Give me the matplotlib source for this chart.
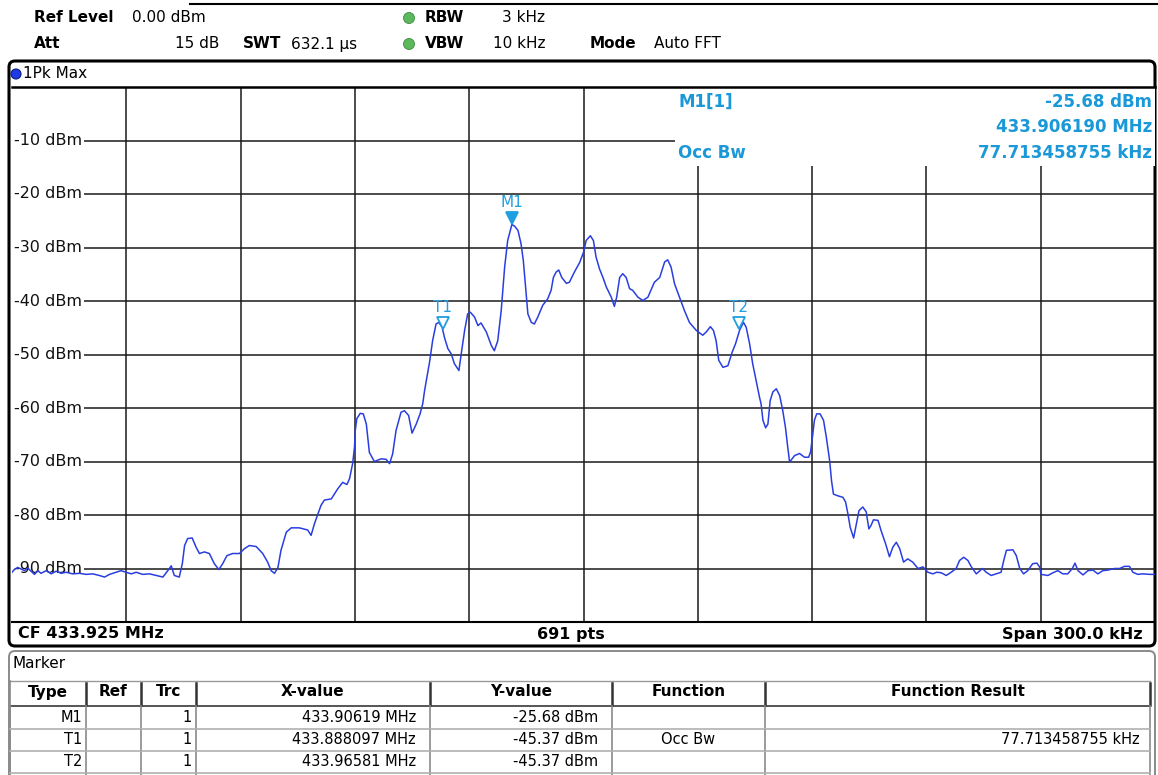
import matplotlib
matplotlib.use("Agg")
import matplotlib.pyplot as plt
import matplotlib.transforms as mtransforms
from matplotlib.patches import FancyBboxPatch, Rectangle, Circle

W, H = 1158, 775

# ---------------- data ----------------
center_mhz = 433.925
span_khz = 300.0
n_points = 691

freq_khz = [
    -150.0, -149.4, -148.5, -147.6, -146.7, -145.9, -145.0, -144.1, -143.2, -142.4,
    -141.0, -139.7, -138.4, -137.1, -135.8, -134.1, -132.3, -130.5, -128.8, -127.1,
    -125.7, -124.4, -122.7, -121.4, -120.0, -118.7, -117.4, -115.7, -113.9, -112.2,
    -110.4, -109.1, -108.2, -107.4, -106.1, -105.3, -104.7, -103.9, -102.7, -101.7,
    -100.8, -99.5, -98.2, -96.9, -95.7, -94.7, -93.6, -92.1, -90.3, -89.0,
    -87.7, -85.9, -84.2, -82.9, -82.0, -81.1, -80.2, -79.4, -78.0, -76.7,
    -74.6, -72.4, -71.5, -70.6,
    -68.9, -68.0, -66.2, -64.5, -63.2, -62.1, -61.4, -60.6, -60.1, -59.9,
    -59.5, -58.6, -57.8, -57.0, -56.2, -54.9, -53.1, -51.8, -50.9, -50.1,
    -49.2, -47.9, -47.0, -45.9, -45.0, -43.9, -42.9, -42.2, -41.7,
    -40.4, -39.6, -38.7, -38.0, -37.1, -36.5, -35.6, -34.7, -33.9, -32.7,
    -32.1, -31.2, -30.4, -29.7, -28.6, -27.7, -26.9, -25.5, -24.2, -23.4,
    -22.5, -21.6, -20.7, -19.9, -18.8, -18.1, -17.2, -16.4, -15.8, -15.2,
    -14.6, -13.7, -12.9, -12.0, -10.7, -9.4, -8.5, -7.9, -7.2, -6.5,
    -5.7, -4.5, -3.7, -2.4, -1.0,
    0.0, 0.7, 1.8, 2.6, 3.3, 4.2, 5.1, 6.0, 7.3, 8.1,
    8.7, 9.5, 10.3, 11.2, 12.1, 12.9, 14.3, 15.6, 16.9, 18.6,
    20.0, 21.3, 22.1, 23.0, 23.9, 25.2, 26.5, 27.8, 29.6, 31.3,
    32.2, 33.3, 34.1, 34.8, 35.5, 36.6, 37.9, 39.0, 39.9, 41.0,
    42.0, 42.7, 43.6, 44.4,
    45.3, 46.2, 46.6, 47.1, 47.8, 48.4, 49.0, 49.7, 50.6, 51.5,
    52.3, 53.0, 53.6, 54.1, 55.4, 56.7, 58.0, 59.1, 59.6, 60.2,
    60.6, 61.2, 62.1, 63.0, 63.7, 64.6, 65.1, 65.6, 66.7, 68.1,
    68.8, 69.4, 70.0, 70.9, 71.6, 72.3, 73.3, 74.2, 74.9, 75.5,
    76.1, 77.3, 78.1, 79.3, 80.3, 81.2, 82.1, 83.0, 84.0, 85.1,
    86.4, 87.8, 89.1, 90.4, 91.7, 92.7, 93.9, 95.2, 96.5, 97.8,
    98.7, 99.8, 100.9, 101.8, 103.1, 104.7, 105.7, 107.0, 108.3, 109.6,
    110.3, 111.0, 112.7, 113.6, 114.5, 115.5, 116.6, 117.9, 119.0, 119.7,
    120.1, 121.9, 123.2, 124.5, 125.8, 127.1, 128.3, 129.0, 129.8, 131.1,
    132.4, 133.7, 135.0, 136.3, 137.6, 139.4, 140.7, 142.0, 143.3, 144.2,
    145.5, 146.8, 148.6, 150.0,
]

level_dbm = [
    -90.7, -90.2, -89.8, -90.1, -90.4, -89.9, -90.5, -91.1, -90.4, -90.9,
    -90.4, -91.0, -90.5, -90.9, -90.7, -91.0, -90.9, -91.1, -91.0, -91.3,
    -91.6, -91.1, -90.7, -90.4, -90.7, -91.0, -90.7, -91.1, -91.0, -91.3,
    -91.6, -90.4, -89.5, -91.3, -91.6, -89.1, -85.7, -84.4, -84.3, -86.0,
    -87.2, -86.9, -87.2, -89.1, -90.2, -89.1, -87.6, -87.2, -87.2, -86.3,
    -85.7, -85.9, -87.2, -88.8, -90.4, -90.9, -89.8, -86.6, -83.2, -82.4,
    -82.4, -82.8, -83.8, -81.6,
    -78.2, -77.2, -77.0, -75.1, -73.9, -74.3, -73.2, -70.4, -67.3, -64.2,
    -62.0, -61.0, -61.1, -63.0, -68.3, -70.0, -69.5, -69.6, -70.4, -68.6,
    -64.2, -60.8, -60.5, -61.4, -64.7, -63.0, -61.1, -59.2, -56.7,
    -51.4, -47.4, -44.3, -44.0, -44.9, -46.8, -48.9, -49.9, -51.7, -53.0,
    -49.9, -45.5, -42.4, -42.1, -43.0, -44.6, -44.1, -45.8, -48.3, -49.3,
    -47.4, -41.8, -33.7, -28.7, -25.7, -26.0, -26.8, -29.3, -32.4, -37.4,
    -42.4, -44.0, -44.3, -43.0, -40.8, -39.6, -38.0, -35.6, -34.6, -34.2,
    -35.6, -36.7, -36.5, -34.6, -32.8,
    -30.9, -28.7, -27.8, -28.7, -31.8, -34.0, -35.6, -37.4, -39.3, -41.0,
    -39.3, -35.6, -34.9, -35.6, -37.7, -38.0, -39.3, -39.9, -39.3, -36.5,
    -35.6, -32.7, -32.3, -33.7, -36.8, -39.3, -41.8, -44.0, -45.5, -46.4,
    -45.8, -44.8, -45.5, -47.4, -51.1, -52.4, -52.1, -49.6, -48.0, -45.4,
    -44.0, -44.9, -48.0, -51.7,
    -54.9, -58.0, -59.2, -62.3, -63.7, -63.0, -58.6, -57.0, -56.4, -57.7,
    -60.5, -63.6, -67.3, -70.1, -68.9, -68.5, -69.2, -69.2, -68.2, -64.8,
    -62.3, -61.1, -61.1, -62.3, -65.3, -69.8, -73.6, -76.1, -76.4, -76.7,
    -77.6, -79.8, -82.3, -84.3, -81.7, -79.2, -78.5, -79.4, -82.6, -81.9,
    -80.9, -81.0, -82.9, -85.4, -87.8, -86.0, -85.1, -86.3, -88.8, -88.2,
    -88.8, -90.0, -89.7, -90.7, -91.0, -90.7, -90.8, -91.3, -90.7, -90.0,
    -88.5, -87.9, -88.5, -89.7, -91.0, -90.0, -90.7, -91.3, -91.0, -90.7,
    -88.5, -86.6, -86.5, -87.6, -90.0, -91.0, -90.4, -89.1, -89.0, -89.7,
    -91.1, -91.3, -90.8, -90.4, -91.0, -91.0, -90.0, -89.0, -90.4, -91.2,
    -90.4, -90.3, -91.0, -90.4, -90.3, -90.0, -90.0, -89.6, -89.6, -90.7,
    -91.1, -91.0, -91.1, -91.1,
]
assert len(freq_khz) == len(level_dbm), (len(freq_khz), len(level_dbm))

y_ticks = [-10, -20, -30, -40, -50, -60, -70, -80, -90]
y_tick_labels = ["-10 dBm", "-20 dBm", "-30 dBm", "-40 dBm", "-50 dBm",
                 "-60 dBm", "-70 dBm", "-80 dBm", "-90 dBm"]
x_grid_khz = [-120, -90, -60, -30, 0, 30, 60, 90, 120]

marker_names = ["M1", "T1", "T2"]
marker_freq_mhz = [433.90619, 433.888097, 433.96581]
marker_level_dbm = [-25.68, -45.37, -45.37]
marker_filled = [True, False, False]

tbl_headers = ["Type", "Ref", "Trc", "X-value", "Y-value", "Function", "Function Result"]
tbl_type = ["M1", "T1", "T2"]
tbl_ref = ["", "", ""]
tbl_trc = ["1", "1", "1"]
tbl_x = ["433.90619 MHz", "433.888097 MHz", "433.96581 MHz"]
tbl_y = ["-25.68 dBm", "-45.37 dBm", "-45.37 dBm"]
tbl_func = ["", "Occ Bw", ""]
tbl_result = ["", "77.713458755 kHz", ""]

# ---------------- styling ----------------
TRACE = "#2a3ee0"
MK = "#1f9ee0"
INFO = "#1a98d8"
FONT = "DejaVu Sans"
plt.rcParams["font.family"] = [FONT]

fig = plt.figure(figsize=(W / 100, H / 100), dpi=100)
fig.patch.set_facecolor("white")

# overlay in pixel coordinates
ov = fig.add_axes([0, 0, 1, 1])
ov.set_xlim(0, W)
ov.set_ylim(H, 0)
ov.axis("off")


def t(x, y, s, **kw):
    kw.setdefault("va", "center")
    kw.setdefault("fontsize", 11)
    ov.text(x, y, s, **kw)


def ft(x, y, s, **kw):
    # text drawn on top of everything (figure level), pixel coords
    kw.setdefault("va", "center")
    kw.setdefault("fontsize", 11)
    fig.text(x / W, 1 - y / H, s, **kw)


# header
ov.plot([190, W], [4, 4], color="black", lw=1.5)
t(34, 18, "Ref Level", fontweight="bold")
t(132, 18, "0.00 dBm")
ov.add_patch(Circle((409, 18), 5.5, fc="#5cb85c", ec="#3d8b3d", lw=0.6))
t(425, 18, "RBW", fontweight="bold")
t(502, 18, "3 kHz")
t(34, 44, "Att", fontweight="bold")
t(219, 44, "15 dB", ha="right")
t(243, 44, "SWT", fontweight="bold")
t(291, 44, "632.1 \u00b5s")
ov.add_patch(Circle((409, 44), 5.5, fc="#5cb85c", ec="#3d8b3d", lw=0.6))
t(425, 44, "VBW", fontweight="bold")
t(493, 44, "10 kHz")
t(590, 44, "Mode", fontweight="bold")
t(654, 44, "Auto FFT")

# main panel frame
ov.add_patch(FancyBboxPatch((9, 61), 1146, 585, boxstyle="round,pad=0,rounding_size=6",
                            fc="none", ec="black", lw=2.2))
ov.add_patch(Circle((16, 74), 5, fc="#1e3be6", ec="#0b1a80", lw=0.8))
t(23, 74, "1Pk Max")
t(18, 634, "CF 433.925 MHz", fontweight="bold", fontsize=11.5)
t(571, 634, "691 pts", fontweight="bold", fontsize=11.5, ha="center")
t(1143, 634, "Span 300.0 kHz", fontweight="bold", fontsize=11.5, ha="right")

# marker table panel
ov.add_patch(FancyBboxPatch((9, 651), 1146, 140, boxstyle="round,pad=0,rounding_size=6",
                            fc="none", ec="#8a8a8a", lw=1.4))
t(12, 663, "Marker", fontsize=11)
col_edges = [10, 86, 141, 196, 430, 612, 765, 1150]
hdr_top, hdr_bot = 681, 706
row_lines = [729, 751, 773]
ov.plot([10, 1150], [hdr_top, hdr_top], color="#9a9a9a", lw=1.0)
ov.plot([10, 1150], [hdr_bot, hdr_bot], color="#555555", lw=1.4)
for xe in col_edges[1:]:
    ov.plot([xe, xe], [hdr_top + 2, hdr_bot - 1], color="#333333", lw=1.8)
for xe in col_edges:
    ov.plot([xe, xe], [hdr_bot, H], color="#8a8a8a", lw=1.2)
ov.plot([10, 10], [hdr_top, H], color="#8a8a8a", lw=1.2)
for yl in row_lines:
    ov.plot([10, 1150], [yl, yl], color="#b0b0b0", lw=1.2)

hdr_centers = [(col_edges[i] + col_edges[i + 1]) / 2 for i in range(len(col_edges) - 1)]
for cx, h in zip(hdr_centers, tbl_headers):
    t(cx, 692, h, ha="center", fontweight="bold", fontsize=11)

row_y = [718, 740, 762]
for i, ry in enumerate(row_y):
    t(col_edges[1] - 4, ry, tbl_type[i], ha="right", fontsize=10.5)
    t(col_edges[2] - 4, ry, tbl_ref[i], ha="right", fontsize=10.5)
    t(col_edges[3] - 4, ry, tbl_trc[i], ha="right", fontsize=10.5)
    t(col_edges[4] - 14, ry, tbl_x[i], ha="right", fontsize=10.5)
    t(col_edges[5] - 14, ry, tbl_y[i], ha="right", fontsize=10.5)
    t(hdr_centers[5], ry, tbl_func[i], ha="center", fontsize=10.5)
    t(col_edges[7] - 10, ry, tbl_result[i], ha="right", fontsize=10.5)

# marker info (top-right of diagram), drawn at figure level so it sits on top
ft(678, 102, "M1[1]", color=INFO, fontweight="bold", fontsize=12)
ft(1152, 102, f"{marker_level_dbm[0]:.2f} dBm", color=INFO, fontweight="bold", fontsize=12, ha="right")
ft(1152, 127, f"{marker_freq_mhz[0]:.6f} MHz", color=INFO, fontweight="bold", fontsize=12, ha="right")
ft(678, 153, "Occ Bw", color=INFO, fontweight="bold", fontsize=12)
ft(1152, 153, tbl_result[1], color=INFO, fontweight="bold", fontsize=12, ha="right")

# ---------------- diagram ----------------
x0, x1, y0, y1 = 12, 1155, 87, 622
ax = fig.add_axes([x0 / W, 1 - y1 / H, (x1 - x0) / W, (y1 - y0) / H])
ax.patch.set_alpha(0)
ax.set_xlim(-span_khz / 2, span_khz / 2)
ax.set_ylim(-100, 0)
ax.set_xticks(x_grid_khz)
ax.set_yticks(y_ticks)
ax.tick_params(length=0, labelleft=False, labelbottom=False)
ax.set_axisbelow(True)
ax.grid(True, color="#1a1a1a", lw=1.1)
for s in ["left", "right"]:
    ax.spines[s].set_visible(False)
ax.spines["top"].set_linewidth(1.8)
ax.spines["bottom"].set_linewidth(1.5)

# blank area behind marker info
ax.add_patch(Rectangle((23.9, -14.7), 126.1, 14.7, fc="white", ec="none", zorder=1))

for v, lab in zip(y_ticks, y_tick_labels):
    ax.text(-149.4, v, lab, va="center", ha="left", fontsize=11.5, color="#111111",
            bbox=dict(fc="white", ec="none", pad=1.5), zorder=2)

ax.plot(freq_khz, level_dbm, color=TRACE, lw=1.1, zorder=3)

tri_tr = mtransforms.offset_copy(ax.transData, fig=fig, x=0, y=4.5, units="points")
lab_tr = mtransforms.offset_copy(ax.transData, fig=fig, x=0, y=16, units="points")
for name, fm, lv, filled in zip(marker_names, marker_freq_mhz, marker_level_dbm, marker_filled):
    fk = (fm - center_mhz) * 1000.0
    ax.plot([fk], [lv], marker="v", ms=9, linestyle="none", transform=tri_tr,
            mfc=MK if filled else "white", mec=MK, mew=1.3, zorder=4, clip_on=False)
    ax.text(fk, lv, name, transform=lab_tr, ha="center", va="center", color=MK,
            fontsize=11, zorder=4)

fig.savefig("out.png", dpi=100)
